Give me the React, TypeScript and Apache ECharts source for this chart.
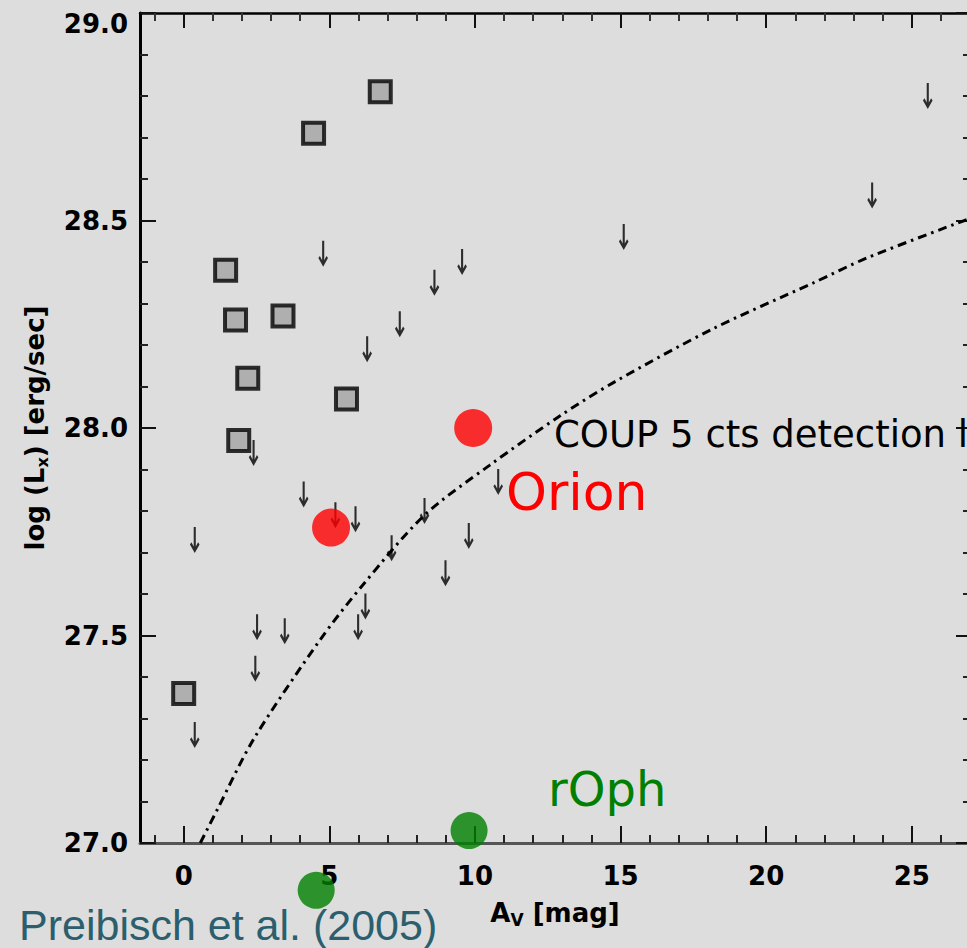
import React, { useEffect, useRef } from "react";
import * as echarts from "echarts";

// ---- data ----
const X_MAJOR = [0, 5, 10, 15, 20, 25];
const X_MINOR = [-1, 1, 2, 3, 4, 6, 7, 8, 9, 11, 12, 13, 14, 16, 17, 18, 19, 21, 22, 23, 24, 26];

// detections (squares): [A_V, log Lx]
const detections: [number, number][] = [
  [6.75, 28.81],
  [4.46, 28.71],
  [1.44, 28.38],
  [1.78, 28.26],
  [3.41, 28.27],
  [2.2, 28.12],
  [5.59, 28.07],
  [1.89, 27.97],
  [0.0, 27.36],
];

// upper limits (down arrows)
const upperLimits: [number, number][] = [
  [4.79, 28.42],
  [9.56, 28.4],
  [8.61, 28.35],
  [7.42, 28.25],
  [6.3, 28.19],
  [2.4, 27.94],
  [25.55, 28.8],
  [23.64, 28.56],
  [15.11, 28.46],
  [4.12, 27.84],
  [5.9, 27.78],
  [5.21, 27.79],
  [8.27, 27.8],
  [9.79, 27.74],
  [0.38, 27.73],
  [7.14, 27.71],
  [8.99, 27.65],
  [6.24, 27.57],
  [5.99, 27.52],
  [2.52, 27.52],
  [3.47, 27.51],
  [2.46, 27.42],
  [0.38, 27.26],
  [10.8, 27.87],
];

// COUP 5 cts detection limit curve
const limitX = [0.57, 1.15, 2.4, 4.69, 6.13, 8.27, 10.5, 12.94, 14.77, 18.2, 21.63, 23.47, 27];
const limitY = [27.0, 27.08, 27.25, 27.49, 27.62, 27.79, 27.91, 28.03, 28.11, 28.24, 28.35, 28.41, 28.505];

const orionPoints: [number, number][] = [
  [9.94, 28.0],
  [5.06, 27.76],
];
const ophPoints: [number, number][] = [
  [9.8, 27.03],
  [4.55, 26.886],
];

const ARROW =
  "path://M6.3,0 L9.7,0 L9.7,19.5 L13.4,15.2 L15.8,17.4 L8,26 L0.2,17.4 L2.6,15.2 L6.3,19.5 Z";

const FONT = "DejaVu Sans";

export default function App() {
  const ref = useRef<HTMLDivElement>(null);

  useEffect(() => {
    if (!ref.current) return;
    const chart = echarts.init(ref.current, undefined, { renderer: "svg" });

    const xBase = {
      type: "value" as const,
      min: -1.5,
      max: 27,
      splitLine: { show: false },
      minorSplitLine: { show: false },
    };
    const yBase = {
      type: "value" as const,
      min: 27,
      max: 29,
      interval: 0.5,
      splitLine: { show: false },
      minorSplitLine: { show: false },
    };
    const tickLabel = {
      fontSize: 26,
      fontWeight: "bold" as const,
      fontFamily: FONT,
      color: "#000",
    };

    const option: any = {
      animation: false,
      backgroundColor: "#dddddd",
      grid: {
        left: 140,
        top: 13,
        width: 830,
        height: 830,
        containLabel: false,
        outerBoundsMode: "none",
      },
      xAxis: [
        {
          ...xBase,
          position: "bottom",
          axisLine: { show: true, onZero: false, lineStyle: { color: "#555", width: 3 } },
          axisTick: {
            show: true,
            inside: true,
            length: 17,
            customValues: X_MAJOR,
            lineStyle: { color: "#111", width: 2 },
          },
          axisLabel: { ...tickLabel, customValues: X_MAJOR, margin: 20 },
          name: "{a|A}{s|V}{a| [mag]}",
          nameLocation: "middle",
          nameGap: 55,
          nameTextStyle: {
            rich: {
              a: { fontSize: 26, fontWeight: "bold", fontFamily: FONT, color: "#000", lineHeight: 30 },
              s: {
                fontSize: 17,
                fontWeight: "bold",
                fontFamily: FONT,
                color: "#000",
                lineHeight: 17,
                verticalAlign: "bottom",
              },
            },
          },
        },
        {
          ...xBase,
          position: "bottom",
          axisLine: { show: false, onZero: false },
          axisTick: {
            show: true,
            inside: true,
            length: 8,
            customValues: X_MINOR,
            lineStyle: { color: "#222", width: 2 },
          },
          axisLabel: { show: false },
        },
        {
          ...xBase,
          position: "top",
          axisLine: { show: true, onZero: false, lineStyle: { color: "#000", width: 2.5 } },
          axisTick: {
            show: true,
            inside: true,
            length: 15,
            customValues: X_MAJOR,
            lineStyle: { color: "#111", width: 2 },
          },
          axisLabel: { show: false },
        },
        {
          ...xBase,
          position: "top",
          axisLine: { show: false, onZero: false },
          axisTick: {
            show: true,
            inside: true,
            length: 8,
            customValues: X_MINOR,
            lineStyle: { color: "#333", width: 2 },
          },
          axisLabel: { show: false },
        },
      ],
      yAxis: [
        {
          ...yBase,
          position: "left",
          axisLine: { show: true, onZero: false, lineStyle: { color: "#000", width: 3 } },
          axisTick: { show: true, inside: true, length: 16, lineStyle: { color: "#111", width: 2 } },
          minorTick: { show: true, splitNumber: 5, length: 8, lineStyle: { color: "#222", width: 2 } },
          axisLabel: {
            ...tickLabel,
            margin: 12,
            formatter: (v: number) =>
              v >= 29 ? "{top|" + v.toFixed(1) + "}" : v.toFixed(1),
            rich: {
              top: { ...tickLabel, padding: [21, 0, 0, 0] },
            },
          },
          name: "{a|log (L}{s|x}{a|) [erg/sec]}",
          nameLocation: "middle",
          nameRotate: 90,
          nameGap: 90,
          nameTextStyle: {
            rich: {
              a: { fontSize: 26, fontWeight: "bold", fontFamily: FONT, color: "#000", lineHeight: 30 },
              s: {
                fontSize: 16,
                fontWeight: "bold",
                fontFamily: FONT,
                color: "#000",
                lineHeight: 16,
                verticalAlign: "bottom",
              },
            },
          },
        },
        {
          ...yBase,
          position: "right",
          axisLine: { show: true, onZero: false, lineStyle: { color: "#000", width: 2.5 } },
          axisTick: { show: true, inside: true, length: 14, lineStyle: { color: "#111", width: 2 } },
          minorTick: { show: true, splitNumber: 5, length: 7, lineStyle: { color: "#222", width: 2 } },
          axisLabel: { show: false },
        },
      ],
      series: [
        {
          type: "line",
          name: "COUP limit",
          xAxisIndex: 0,
          yAxisIndex: 0,
          data: limitX.map((x, i) => [x, limitY[i]]),
          smooth: 0.3,
          showSymbol: false,
          symbol: "none",
          lineStyle: { color: "#000", width: 3, type: [9, 5, 2.5, 5] },
          z: 2,
        },
        {
          type: "scatter",
          name: "detections",
          xAxisIndex: 0,
          yAxisIndex: 0,
          data: detections,
          symbol: "rect",
          symbolSize: 21,
          itemStyle: { color: "#a4a4a4", borderColor: "#000", borderWidth: 4 },
          z: 3,
        },
        {
          type: "scatter",
          name: "upper limits",
          xAxisIndex: 0,
          yAxisIndex: 0,
          data: upperLimits,
          symbol: ARROW,
          symbolSize: [16, 26],
          symbolKeepAspect: true,
          itemStyle: { color: "#000" },
          z: 3,
        },
        {
          type: "scatter",
          name: "Orion",
          xAxisIndex: 0,
          yAxisIndex: 0,
          data: orionPoints,
          symbol: "circle",
          symbolSize: 38,
          itemStyle: { color: "#ff0000" },
          z: 5,
        },
        {
          type: "scatter",
          name: "rOph",
          xAxisIndex: 0,
          yAxisIndex: 0,
          data: ophPoints,
          symbol: "circle",
          symbolSize: 37,
          clip: false,
          itemStyle: { color: "#008000" },
          z: 5,
        },
      ],
      graphic: [
        {
          type: "text",
          x: 554,
          y: 434,
          z: 10,
          style: {
            text: "COUP 5 cts detection limit",
            fontSize: 37,
            fontFamily: FONT,
            fill: "#000",
            align: "left",
            verticalAlign: "middle",
          },
        },
        {
          type: "text",
          x: 506,
          y: 492,
          z: 10,
          style: {
            text: "Orion",
            fontSize: 52,
            fontFamily: FONT,
            fill: "#ff0000",
            align: "left",
            verticalAlign: "middle",
          },
        },
        {
          type: "text",
          x: 548,
          y: 789,
          z: 10,
          style: {
            text: "rOph",
            fontSize: 48,
            fontFamily: FONT,
            fill: "#008000",
            align: "left",
            verticalAlign: "middle",
          },
        },
        {
          type: "text",
          x: 19,
          y: 925,
          z: 10,
          style: {
            text: "Preibisch et al. (2005)",
            fontSize: 43,
            fontFamily: "Liberation Sans",
            fill: "#2b5f6e",
            align: "left",
            verticalAlign: "middle",
          },
        },
      ],
    };

    chart.setOption(option);
    return () => chart.dispose();
  }, []);

  return (
    <div
      style={{
        position: "fixed",
        left: 0,
        top: 0,
        width: 967,
        height: 948,
        overflow: "hidden",
        background: "#dddddd",
      }}
    >
      <div ref={ref} style={{ width: 990, height: 948 }} />
    </div>
  );
}
